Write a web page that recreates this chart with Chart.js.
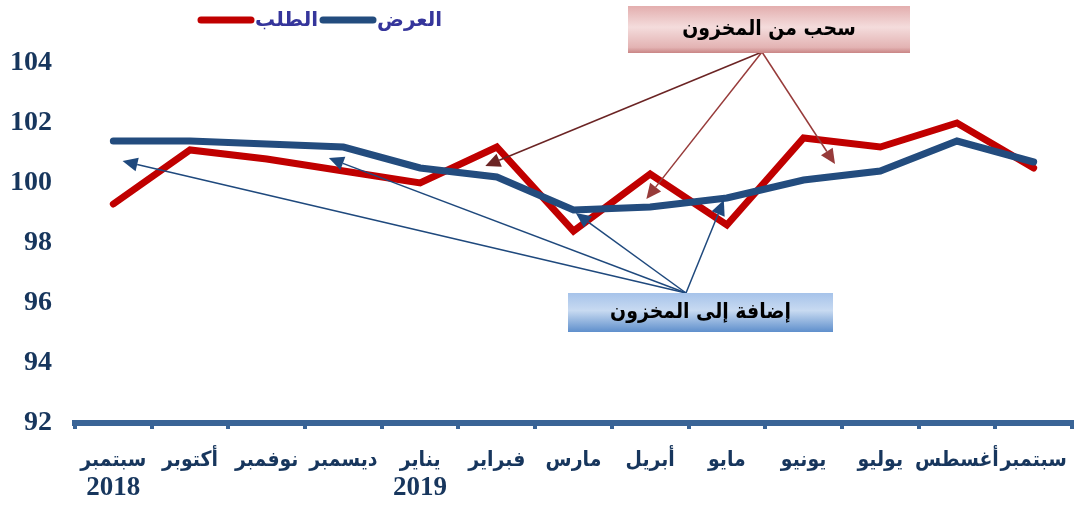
<!DOCTYPE html>
<html>
<head>
<meta charset="utf-8">
<script src="https://cdn.jsdelivr.net/npm/chart.js@4.4.1/dist/chart.umd.min.js"></script>
<style>
  html, body { margin: 0; padding: 0; background: #fff; }
  #wrap { width: 1074px; height: 506px; position: relative; }
</style>
</head>
<body>
<div id="wrap"><canvas id="myChart"></canvas></div>
<script>
// الأشهر
var months = ['سبتمبر', 'أكتوبر', 'نوفمبر', 'ديسمبر', 'يناير', 'فبراير', 'مارس', 'أبريل', 'مايو', 'يونيو', 'يوليو', 'أغسطس', 'سبتمبر'];
var years = ['2018', '', '', '', '2019', '', '', '', '', '', '', '', ''];
// الطلب
var demand = [99.3, 101.1, 100.8, 100.4, 100.0, 101.2, 98.4, 100.3, 98.6, 101.5, 101.2, 102.0, 100.5];
// العرض
var supply = [101.4, 101.4, 101.3, 101.2, 100.5, 100.2, 99.1, 99.2, 99.5, 100.1, 100.4, 101.4, 100.7];
var yTicks = [92, 94, 96, 98, 100, 102, 104];

// نهايات الأسهم (فهرس الشهر، القيمة)
var withdrawTargets = [[4.85, 100.57], [6.95, 99.47], [9.41, 100.63]];
var addTargets = [[0.12, 100.73], [2.81, 100.83], [6.03, 99.0], [7.96, 99.43]];
var withdrawLabel = 'سحب من المخزون';
var addLabel = 'إضافة إلى المخزون';

function arrow(ctx, x1, y1, x2, y2, color) {
    var a = Math.atan2(y2 - y1, x2 - x1);
    var len = 15, w = 7;
    var bx = x2 - len * Math.cos(a), by = y2 - len * Math.sin(a);
    ctx.strokeStyle = color;
    ctx.fillStyle = color;
    ctx.lineWidth = 1.5;
    ctx.beginPath();
    ctx.moveTo(x1, y1);
    ctx.lineTo(bx, by);
    ctx.stroke();
    ctx.beginPath();
    ctx.moveTo(x2, y2);
    ctx.lineTo(bx + w * Math.sin(a), by - w * Math.cos(a));
    ctx.lineTo(bx - w * Math.sin(a), by + w * Math.cos(a));
    ctx.closePath();
    ctx.fill();
}

function box(ctx, x, y, w, h, stops, text) {
    var g = ctx.createLinearGradient(0, y, 0, y + h);
    stops.forEach(function (s) { g.addColorStop(s[0], s[1]); });
    ctx.fillStyle = g;
    ctx.fillRect(x, y, w, h);
    ctx.fillStyle = '#000';
    ctx.font = "bold 21px 'DejaVu Sans Condensed', 'DejaVu Sans'";
    ctx.textAlign = 'center';
    ctx.textBaseline = 'middle';
    ctx.fillText(text, x + w / 2, y + h / 2);
}

var annotations = {
    id: 'annotations',
    afterDatasetsDraw: function (chart) {
        var ctx = chart.ctx, x = chart.scales.x, y = chart.scales.y;
        ctx.save();
        // أسهم السحب
        withdrawTargets.forEach(function (t, i) {
            arrow(ctx, 762, 52, x.getPixelForValue(t[0]), y.getPixelForValue(t[1]), i === 0 ? '#6B2424' : '#973B3A');
        });
        // أسهم الإضافة
        addTargets.forEach(function (t) {
            arrow(ctx, 686, 293, x.getPixelForValue(t[0]), y.getPixelForValue(t[1]), '#1F497D');
        });
        box(ctx, 628, 6, 282, 47, [[0, '#E3AEAE'], [0.45, '#F4DCDC'], [0.88, '#E3B3B3'], [1, '#C98585']], withdrawLabel);
        box(ctx, 568, 293, 265, 39, [[0, '#A6C3EA'], [0.45, '#C8DAF1'], [1, '#5F8FCC']], addLabel);

        // وسيلة الإيضاح
        var items = [
            { x: 198, ds: chart.data.datasets[0] },
            { x: 320, ds: chart.data.datasets[1] }
        ];
        ctx.lineCap = 'round';
        items.forEach(function (it) {
            ctx.strokeStyle = it.ds.borderColor;
            ctx.lineWidth = 7;
            ctx.beginPath();
            ctx.moveTo(it.x + 3, 20);
            ctx.lineTo(it.x + 53, 20);
            ctx.stroke();
            ctx.fillStyle = '#35359B';
            ctx.font = "bold 20px 'DejaVu Sans'";
            ctx.textAlign = 'left';
            ctx.textBaseline = 'alphabetic';
            ctx.fillText(it.ds.label, it.x + 57, 26);
        });

        // السنوات تحت الأشهر
        ctx.fillStyle = '#17365D';
        ctx.font = "bold 27px 'Liberation Serif'";
        ctx.textAlign = 'center';
        ctx.textBaseline = 'middle';
        years.forEach(function (yr, i) {
            if (yr) ctx.fillText(yr, x.getPixelForTick(i), 488);
        });
        ctx.restore();
    }
};

var ctx = document.getElementById('myChart').getContext('2d');
window.myChart = new Chart(ctx, {
    type: 'line',
    data: {
        labels: months,
        datasets: [{
            label: 'الطلب',
            data: demand,
            borderColor: '#C00000',
            borderWidth: 7,
            pointRadius: 0,
            borderCapStyle: 'round',
            borderJoinStyle: 'miter',
            fill: false,
            order: 1
        },
        {
            label: 'العرض',
            data: supply,
            borderColor: '#234C7E',
            borderWidth: 7,
            pointRadius: 0,
            borderCapStyle: 'round',
            borderJoinStyle: 'miter',
            fill: false,
            order: 0
        }]
    },
    options: {
        responsive: true,
        maintainAspectRatio: false,
        animation: false,
        layout: { padding: { top: 63, right: 2, left: 0, bottom: 0 } },
        plugins: {
            legend: { display: false },
            tooltip: { enabled: false }
        },
        scales: {
            x: {
                offset: true,
                afterFit: function (s) {
                    s.height = 83;
                    s.paddingLeft = 0;
                    s.paddingRight = 0;
                },
                grid: {
                    offset: true,
                    drawOnChartArea: false,
                    drawTicks: true,
                    tickLength: 6,
                    lineWidth: 4,
                    color: '#3A6496'
                },
                border: { display: true, width: 6, color: '#3A6496' },
                ticks: {
                    autoSkip: false,
                    maxRotation: 0,
                    padding: 19,
                    color: '#17365D',
                    font: { family: "'DejaVu Sans Condensed', 'DejaVu Sans'", size: 21, weight: 'bold' }
                }
            },
            y: {
                min: 92,
                max: 104,
                afterFit: function (s) { s.width = 75; },
                afterBuildTicks: function (s) { s.ticks = yTicks.map(function (v) { return { value: v }; }); },
                grid: { display: false },
                border: { display: false },
                ticks: {
                    padding: 15,
                    color: '#17365D',
                    font: { family: "'Liberation Serif'", size: 28, weight: 'bold' }
                }
            }
        }
    },
    plugins: [annotations]
});
</script>
</body>
</html>
